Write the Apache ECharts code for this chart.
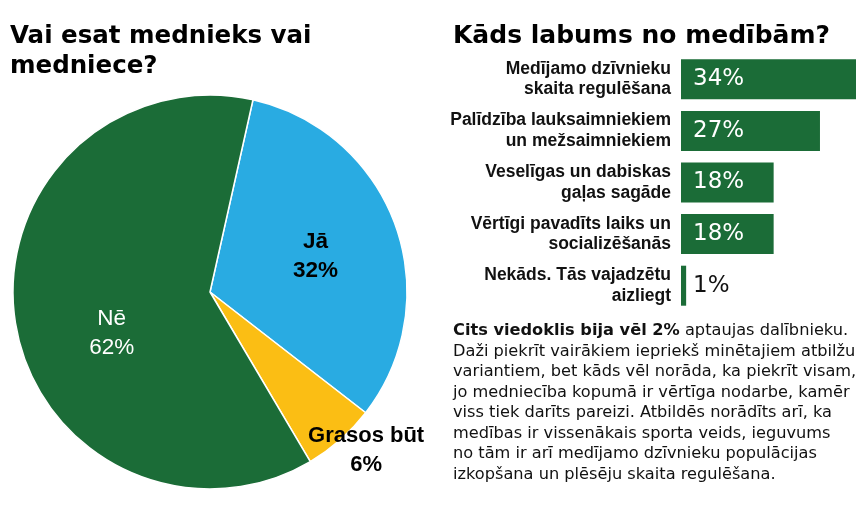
<!DOCTYPE html>
<html>
<head>
<meta charset="utf-8">
<script src="https://cdn.jsdelivr.net/npm/echarts@6/dist/echarts.min.js"></script>
<style>
  html, body { margin: 0; padding: 0; background: #fff; }
  #main { width: 866px; height: 519px; }
</style>
</head>
<body>
<div id="main"></div>
<script>
// pie: vai esat mednieks
var pieNames = ['Jā', 'Grasos būt', 'Nē'];
var pieValues = [32, 6, 62];

// bars: kāds labums no medībām
var benefitNames = [
    'Medījamo dzīvnieku\nskaita regulēšana',
    'Palīdzība lauksaimniekiem\nun mežsaimniekiem',
    'Veselīgas un dabiskas\ngaļas sagāde',
    'Vērtīgi pavadīts laiks un\nsocializēšanās',
    'Nekāds. Tās vajadzētu\naizliegt'
];
var benefitValues = [34, 27, 18, 18, 1];

var GREEN = '#1b6c37', BLUE = '#29abe2', YELLOW = '#fbbe14';

var noteText = [
    '{b|Cits viedoklis bija vēl 2%} aptaujas dalībnieku.',
    'Daži piekrīt vairākiem iepriekš minētajiem atbilžu',
    'variantiem, bet kāds vēl norāda, ka piekrīt visam,',
    'jo medniecība kopumā ir vērtīga nodarbe, kamēr',
    'viss tiek darīts pareizi. Atbildēs norādīts arī, ka',
    'medības ir vissenākais sporta veids, ieguvums',
    'no tām ir arī medījamo dzīvnieku populācijas',
    'izkopšana un plēsēju skaita regulēšana.'
].join('\n');

var chart = echarts.init(document.getElementById('main'));

var pieColors = [BLUE, YELLOW, GREEN];
var pieLabel = [
    {color: '#000', fontWeight: 'bold', fontSize: 22.5},
    {color: '#000', fontWeight: 'bold'},
    {color: '#fff', fontWeight: 'normal', fontSize: 22.5}
];
var pieOffset = [[10, -1], [89, 82], [2, 25]];

var option = {
    animation: false,
    title: [
        {
            text: 'Vai esat mednieks vai\nmedniece?',
            left: 10, top: 22, padding: 0,
            textStyle: {fontFamily: 'DejaVu Sans', fontWeight: 'bold', fontSize: 24.5, lineHeight: 30, color: '#000'}
        },
        {
            text: 'Kāds labums no medībām?',
            left: 453, top: 21, padding: 0,
            textStyle: {fontFamily: 'DejaVu Sans', fontWeight: 'bold', fontSize: 25, lineHeight: 30, color: '#000'}
        },
        {
            text: noteText,
            left: 453, top: 321, padding: 0,
            textStyle: {
                fontFamily: 'DejaVu Sans', fontWeight: 'normal', fontSize: 16.2, lineHeight: 20.5, color: '#111',
                rich: {
                    b: {fontFamily: 'DejaVu Sans', fontWeight: 'bold', fontSize: 16.2, lineHeight: 20.5, color: '#111'}
                }
            }
        }
    ],
    grid: {left: 681, top: 53.5, width: 175, height: 258},
    xAxis: {type: 'value', min: 0, max: 34, show: false},
    yAxis: {
        type: 'category',
        inverse: true,
        data: benefitNames,
        axisLine: {show: false},
        axisTick: {show: false},
        axisLabel: {
            margin: 10,
            fontFamily: 'Liberation Sans',
            fontWeight: 'bold',
            fontSize: 17.5,
            lineHeight: 20.5,
            color: '#111',
            align: 'right'
        }
    },
    series: [
        {
            type: 'pie',
            center: [210, 292],
            radius: 197,
            startAngle: 77.4,
            clockwise: true,
            silent: true,
            itemStyle: {borderColor: '#fff', borderWidth: 1.5},
            label: {
                show: true,
                position: 'inside',
                formatter: '{b}\n{c}%',
                fontFamily: 'Liberation Sans',
                fontSize: 22,
                lineHeight: 29
            },
            labelLine: {show: false},
            labelLayout: function (params) {
                var o = pieOffset[params.dataIndex];
                return {dx: o[0], dy: o[1]};
            },
            data: pieNames.map(function (n, i) {
                return {
                    name: n,
                    value: pieValues[i],
                    itemStyle: {color: pieColors[i]},
                    label: pieLabel[i]
                };
            })
        },
        {
            type: 'bar',
            barWidth: 40,
            silent: true,
            itemStyle: {color: GREEN},
            label: {
                show: true,
                position: 'insideLeft',
                distance: 12,
                formatter: '{c}%',
                fontFamily: 'DejaVu Sans',
                fontSize: 23,
                color: '#fff'
            },
            data: benefitValues.map(function (v) {
                // the thin bar cannot hold white text
                return v < 5 ? {value: v, label: {color: '#111'}} : v;
            })
        }
    ]
};

chart.setOption(option);
</script>
</body>
</html>
